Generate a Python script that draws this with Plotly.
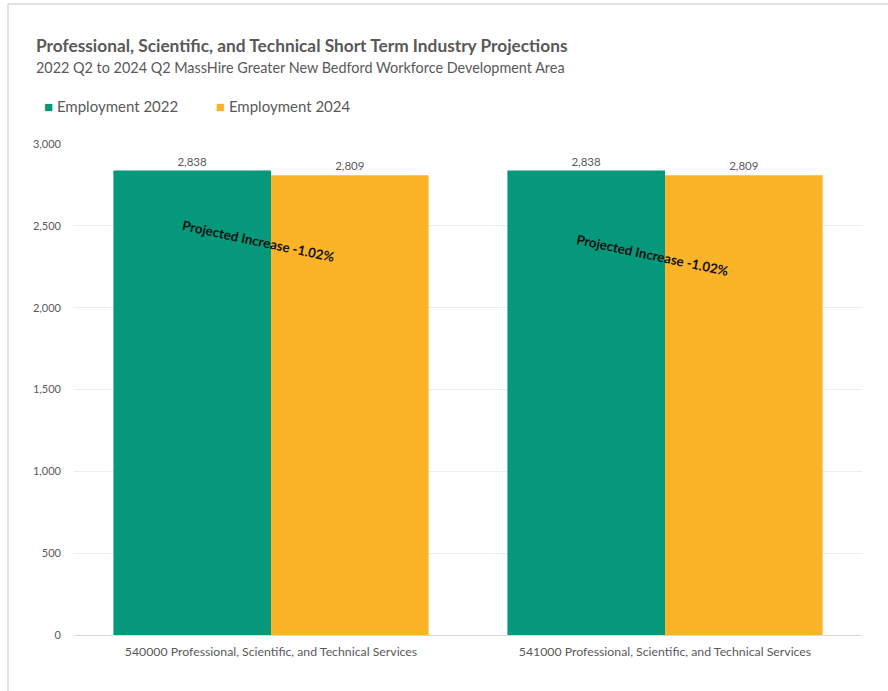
import plotly.graph_objects as go

# Short-term industry projection data
categories = [
    "540000 Professional, Scientific, and Technical Services",
    "541000 Professional, Scientific, and Technical Services",
]
series_names = ["Employment 2022", "Employment 2024"]
employment_2022 = [2838, 2838]
employment_2024 = [2809, 2809]
change_labels = ["Projected Increase -1.02%", "Projected Increase -1.02%"]
change_label_y = [2410, 2320]
y_ticks = [0, 500, 1000, 1500, 2000, 2500, 3000]

W, H = 888, 691
ML, MR, MT, MB = 74, 26, 144, 56
PW, PH = W - ML - MR, H - MT - MB

GREEN = "#05987A"
ORANGE = "#FBB327"
GRAY = "#595959"
FONT = "Lato"


def px_to_paper_x(px):
    return (px - ML) / PW


def px_to_paper_y(py):
    return (H - MB - py) / PH


fig = go.Figure()
for name, values, color in zip(series_names, [employment_2022, employment_2024], [GREEN, ORANGE]):
    fig.add_trace(go.Bar(
        name=name, x=categories, y=values,
        marker=dict(color=color, line=dict(width=0)),
        text=[f"{v:,}" for v in values], textposition="outside",
        textfont=dict(size=11.5, color=GRAY, family=FONT), cliponaxis=False,
    ))

annotations = [
    dict(text="<b>Professional, Scientific, and Technical Short Term Industry Projections</b>",
         xref="paper", yref="paper", x=px_to_paper_x(34), y=px_to_paper_y(46),
         xanchor="left", yanchor="middle", showarrow=False,
         font=dict(size=17.3, color=GRAY, family=FONT)),
    dict(text="2022 Q2 to 2024 Q2 MassHire Greater New Bedford Workforce Development Area",
         xref="paper", yref="paper", x=px_to_paper_x(34), y=px_to_paper_y(67),
         xanchor="left", yanchor="middle", showarrow=False,
         font=dict(size=14.4, color=GRAY, family=FONT)),
]

# series key drawn as coloured squares followed by the series name
for name, color, left in zip(series_names, [GREEN, ORANGE], [42, 214]):
    annotations.append(dict(
        text=f"<span style='color:{color}'>■</span> {name}",
        xref="paper", yref="paper", x=px_to_paper_x(left), y=px_to_paper_y(106),
        xanchor="left", yanchor="middle", showarrow=False,
        font=dict(size=15, color=GRAY, family=FONT),
    ))

for i, (lbl, yv) in enumerate(zip(change_labels, change_label_y)):
    annotations.append(dict(
        text=f"<b>{lbl}</b>", x=i, y=yv, xref="x", yref="y", xshift=-13,
        showarrow=False, textangle=12,
        font=dict(size=13.3, color="#111111", family=FONT),
    ))

# light frame around the chart area
frame = dict(type="line", xref="paper", yref="paper",
             line=dict(color="#D9D9D9", width=1.5), layer="below")
shapes = [
    dict(frame, x0=px_to_paper_x(8), x1=px_to_paper_x(W), y0=px_to_paper_y(4), y1=px_to_paper_y(4)),
    dict(frame, x0=px_to_paper_x(8), x1=px_to_paper_x(8), y0=px_to_paper_y(4), y1=px_to_paper_y(H)),
]

fig.update_layout(
    width=W, height=H,
    margin=dict(l=ML, r=MR, t=MT, b=MB, pad=0),
    paper_bgcolor="white", plot_bgcolor="white",
    barmode="group", bargap=0.2, bargroupgap=0,
    font=dict(family=FONT, color=GRAY),
    showlegend=False,
    annotations=annotations,
    shapes=shapes,
    xaxis=dict(showgrid=False, showline=False, ticks="", ticklabelstandoff=8,
               tickfont=dict(size=12.3, color=GRAY, family=FONT)),
    yaxis=dict(range=[0, 3000], tickvals=y_ticks, tickformat=",",
               showgrid=True, gridcolor="#EDEDED", gridwidth=1,
               zeroline=True, zerolinecolor="#D9D9D9", zerolinewidth=1,
               showline=False, ticks="", ticklabelstandoff=12,
               tickfont=dict(size=11, color=GRAY, family=FONT)),
)

fig.write_html("out.html")
